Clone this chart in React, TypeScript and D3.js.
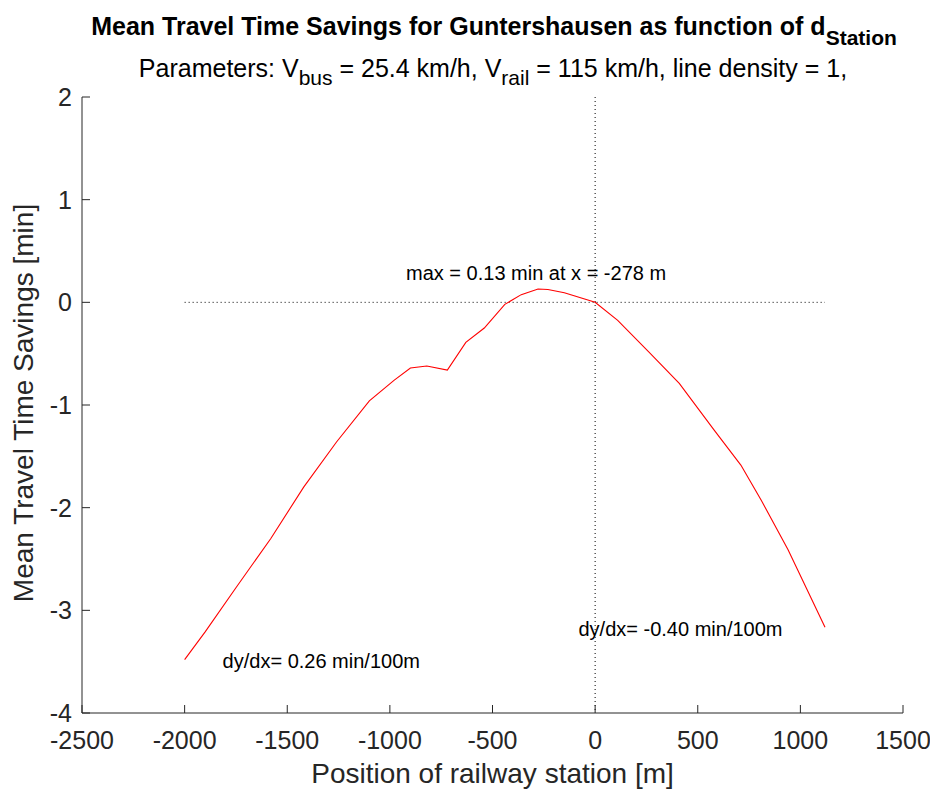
import React from "react";
import * as d3 from "d3";

const positions = [-2000, -1900, -1750, -1580, -1420, -1260, -1100, -980, -900, -820, -720, -630, -540, -440, -360, -278, -230, -150, 0, 110, 260, 410, 580, 710, 810, 940, 1120];
const savings = [-3.48, -3.21, -2.78, -2.3, -1.8, -1.36, -0.96, -0.76, -0.64, -0.62, -0.66, -0.39, -0.25, -0.02, 0.075, 0.13, 0.125, 0.094, 0, -0.175, -0.48, -0.79, -1.245, -1.585, -1.93, -2.41, -3.165];
const xTicks = [-2500, -2000, -1500, -1000, -500, 0, 500, 1000, 1500];
const yTicks = [-4, -3, -2, -1, 0, 1, 2];
const maxX = -278;
const maxY = 0.13;

const W = 930;
const H = 789;
const M = { left: 82, right: 903, top: 97, bottom: 713 };
const FONT = "'Liberation Sans', Arial, Helvetica, sans-serif";
const AX = "#262626";

export default function App() {
  const x = d3.scaleLinear().domain([-2500, 1500]).range([M.left, M.right]);
  const y = d3.scaleLinear().domain([-4, 2]).range([M.bottom, M.top]);
  const line = d3
    .line<number>()
    .x((_, i) => x(positions[i]))
    .y((d) => y(d));
  const xEnd = positions[positions.length - 1];
  const xStart = positions[0];

  return (
    <svg
      width={W}
      height={H}
      style={{ position: "absolute", left: 0, top: 0, background: "#fff" }}
      fontFamily={FONT}
    >
      <rect width={W} height={H} fill="#fff" />
      {/* title */}
      <text x={494} y={35} textAnchor="middle" fontSize={25} fontWeight="bold" fill="#000">
        Mean Travel Time Savings for Guntershausen as function of d
        <tspan fontSize={21} dy={10}>Station</tspan>
      </text>
      <text x={493} y={77} textAnchor="middle" fontSize={25} fill="#000">
        Parameters: V<tspan fontSize={21} dy={8}>bus</tspan>
        <tspan dy={-8}> = 25.4 km/h, V</tspan>
        <tspan fontSize={21} dy={8}>rail</tspan>
        <tspan dy={-8}> = 115 km/h, line density = 1,</tspan>
      </text>

      {/* reference dotted lines */}
      <line x1={x(xStart)} x2={x(xEnd)} y1={y(0)} y2={y(0)} stroke="#000" strokeWidth={1} strokeDasharray="1,3" />
      <line x1={x(0)} x2={x(0)} y1={y(2)} y2={y(-4)} stroke="#000" strokeWidth={1} strokeDasharray="1,3" />

      {/* data line */}
      <path d={line(savings) || ""} fill="none" stroke="#ff0000" strokeWidth={1.1} />

      {/* annotations */}
      <text x={x(maxX) - 2} y={y(maxY + 0.1) + 1} textAnchor="middle" fontSize={20} fill="#000">
        {`max = ${maxY.toFixed(2)} min at x = ${maxX} m`}
      </text>
      <text x={x(-1815)} y={y(-3.56)} fontSize={20} fill="#000">
        dy/dx= 0.26 min/100m
      </text>
      <text x={x(-81)} y={y(-3.25)} fontSize={20} fill="#000">
        dy/dx= -0.40 min/100m
      </text>

      {/* axes */}
      <line x1={M.left} x2={M.right} y1={M.bottom} y2={M.bottom} stroke={AX} strokeWidth={1} />
      <line x1={M.left} x2={M.left} y1={M.top} y2={M.bottom} stroke={AX} strokeWidth={1} />
      {xTicks.map((t) => (
        <g key={"x" + t}>
          <line x1={x(t)} x2={x(t)} y1={M.bottom} y2={M.bottom - 8} stroke={AX} strokeWidth={1} />
          <text x={x(t)} y={M.bottom + 36} textAnchor="middle" fontSize={25} fill={AX}>
            {t}
          </text>
        </g>
      ))}
      {yTicks.map((t) => (
        <g key={"y" + t}>
          <line x1={M.left} x2={M.left + 8} y1={y(t)} y2={y(t)} stroke={AX} strokeWidth={1} />
          <text x={M.left - 10} y={y(t) + 9} textAnchor="end" fontSize={25} fill={AX}>
            {t}
          </text>
        </g>
      ))}

      {/* axis labels */}
      <text x={(M.left + M.right) / 2} y={783} textAnchor="middle" fontSize={28} fill={AX}>
        Position of railway station [m]
      </text>
      <text
        transform={`translate(33,${(M.top + M.bottom) / 2 - 2}) rotate(-90)`}
        textAnchor="middle"
        fontSize={28}
        fill={AX}
      >
        Mean Travel Time Savings [min]
      </text>
    </svg>
  );
}
